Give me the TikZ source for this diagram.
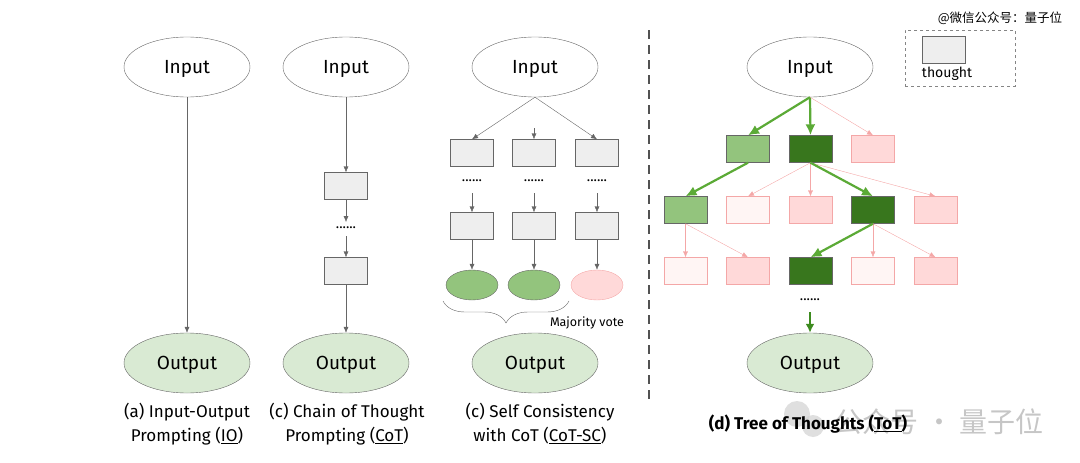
\documentclass[tikz,border=0pt]{standalone}
\usepackage{fontspec}
\setmainfont{Fira Sans}
\newfontfamily\cjk{Noto Sans CJK SC}
\usepackage{tikz}
\usetikzlibrary{arrows.meta, positioning, shapes.geometric, decorations.pathreplacing}
\definecolor{boxgray}{HTML}{EEEEEE}
\definecolor{linegray}{HTML}{666666}
\definecolor{outgreen}{HTML}{D9EAD3}
\definecolor{lightgreen}{HTML}{93C47D}
\definecolor{darkgreen}{HTML}{38761D}
\definecolor{pathgreen}{HTML}{5BAA36}
\definecolor{lastgreen}{HTML}{3D8B1F}
\definecolor{pinkfill}{HTML}{FFD9D9}
\definecolor{palepink}{HTML}{FFF5F4}
\definecolor{pinkline}{HTML}{F4A7A7}
\tikzset{
	line width = .8pt,
	>={Latex[length=6pt,width=5pt]},
	font = \fontsize{19}{22}\selectfont,
	inputnode/.style={
		draw=linegray,
		ellipse,
		fill=white,
		minimum width=126pt,
		minimum height=60pt,
		inner sep=0pt,
		text depth=0pt
	},
	outputnode/.style={
		inputnode,
		fill=outgreen
	},
	thought/.style={
		draw=linegray,
		fill=boxgray,
		minimum width=43pt,
		minimum height=27pt,
		inner sep=0pt
	},
	good/.style={thought, fill=lightgreen},
	best/.style={thought, fill=darkgreen},
	bad/.style={thought, draw=pinkline, fill=pinkfill},
	pale/.style={thought, draw=pinkline, fill=palepink},
	vote/.style={
		draw=linegray,
		ellipse,
		fill=lightgreen,
		minimum width=52pt,
		minimum height=30pt,
		inner sep=0pt
	},
	dots/.style={font=\fontsize{14}{14}\selectfont, inner sep=0pt},
	caption/.style={align=center, font=\fontsize{17}{24}\selectfont},
	edge/.style={
		->,
		draw=linegray
	},
	badedge/.style={
		->,
		draw=pinkline
	},
	goodedge/.style={
		-{Latex[length=11pt,width=10pt]},
		draw=pathgreen,
		line width=2.2pt
	}
}
\begin{document}
\begin{tikzpicture}[x=1pt, y=-1pt]
		\useasboundingbox (0,0) rectangle (1080,463);

		% (a) IO
		\node[inputnode] (io-in) at (187,67) {Input};
		\node[outputnode] (io-out) at (187,363) {Output};
		\draw[edge] (io-in) -- (io-out);
		\node[caption] (io-cap) at (187,424) {(a) Input-Output\\Prompting (\underline{IO})};

		% (c) CoT
		\node[inputnode] (cot-in) at (346,67) {Input};
		\node[thought] (cot-a) at (346,186) {};
		\node[dots] (cot-dots) at (346,228) {......};
		\coordinate (cot-d1) at (346,222);
		\coordinate (cot-d2) at (346,236);
		\node[thought] (cot-b) at (346,271) {};
		\node[outputnode] (cot-out) at (346,363) {Output};
		\draw[edge] (cot-in) -- (cot-a);
		\draw[edge] (cot-a) -- (cot-d1);
		\draw[edge] (cot-d2) -- (cot-b);
		\draw[edge] (cot-b) -- (cot-out);
		\node[caption] (cot-cap) at (347,424) {(c) Chain of Thought\\Prompting (\underline{CoT})};

		% (c) CoT-SC
		\node[inputnode] (sc-in) at (535,67) {Input};
		\foreach \i/\x in {1/472,2/534,3/597} {
			\node[thought] (sc-a\i) at (\x,153) {};
			\node[dots] (sc-dots\i) at (\x,181) {......};
			\coordinate (sc-d\i) at (\x,193);
			\node[thought] (sc-b\i) at (\x,226) {};
			\draw[edge] (sc-d\i) -- (sc-b\i);
		}
		\node[vote] (sc-v1) at (472,285) {};
		\node[vote] (sc-v2) at (534,285) {};
		\node[vote, draw=pinkline, fill=pinkfill] (sc-v3) at (597,285) {};
		\foreach \i in {1,2,3} {
			\draw[edge] (sc-b\i) -- (sc-v\i);
		}
		\coordinate (sc-mid) at (534,128);
		\draw[edge] (sc-in.south) -- (sc-a1.north);
		\draw[edge] (sc-mid) -- (sc-a2);
		\draw[edge] (sc-in.south) -- (sc-a3.north);
		\draw[linegray, decorate, decoration={brace, mirror, amplitude=22pt}] (443,301) -- (569,301);
		\node[font=\fontsize{12.5}{14}\selectfont] (sc-vote) at (587,323) {Majority vote};
		\node[outputnode] (sc-out) at (535,363) {Output};
		\node[caption] (sc-cap) at (540,424) {(c) Self Consistency\\with CoT (\underline{CoT-SC})};

		\draw[color=linegray!80!black, line width=2.4pt, dash pattern=on 9pt off 6pt] (649,30) -- (649,400);

		% (d) ToT
		\node[inputnode] (tot-in) at (810,67) {Input};
		\foreach \c/\s in {2/good,3/best,4/bad} {
			\node[\s] (r1-\c) at ({623+62.5*\c},149) {};
		}
		\foreach \c/\s in {1/good,2/pale,3/bad,4/best,5/bad} {
			\node[\s] (r2-\c) at ({623+62.5*\c},210) {};
		}
		\foreach \c/\s in {1/pale,2/bad,3/best,4/pale,5/bad} {
			\node[\s] (r3-\c) at ({623+62.5*\c},271) {};
		}
		\draw[goodedge] (tot-in.south) -- (r1-2.north);
		\draw[goodedge] (tot-in.south) -- (r1-3.north);
		\draw[badedge] (tot-in.south) -- (r1-4.north);
		\draw[goodedge] (r1-2.south) -- (r2-1.north);
		\foreach \c in {2,3,5} {
			\draw[badedge] (r1-3.south) -- (r2-\c.north);
		}
		\draw[goodedge] (r1-3.south) -- (r2-4.north);
		\foreach \c in {1,2} {
			\draw[badedge] (r2-1.south) -- (r3-\c.north);
		}
		\foreach \c in {4,5} {
			\draw[badedge] (r2-4.south) -- (r3-\c.north);
		}
		\draw[goodedge] (r2-4.south) -- (r3-3.north);
		\node[dots] (tot-dots) at (810,300) {......};
		\coordinate (tot-d) at (810,312);
		\node[outputnode] (tot-out) at (810,363) {Output};
		\draw[goodedge, draw=lastgreen, -{Latex[length=9pt,width=9pt]}, line width=1.8pt] (tot-d) -- (tot-out);

		% legend
		\node[draw=linegray!80, dashed, minimum width=110pt, minimum height=56pt, inner sep=0pt] (legend) at (960,58) {};
		\node[thought] (legend-box) at (944,50) {};
		\node[font=\fontsize{14}{16}\selectfont] (legend-text) at (947,74) {thought};

		% watermarks
		\node[font=\cjk\fontsize{12.5}{14}\selectfont, inner sep=0pt] (mark-top) at (1000,18) {@微信公众号：量子位};
		\fill[gray!35, opacity=.7] (797,414) circle (13);
		\fill[gray!35, opacity=.7] (813,426) circle (11);
		\node[font=\cjk\fontsize{28}{30}\selectfont, text=gray!45, inner sep=0pt] (mark-bottom) at (939,422) {公众号 · 量子位};

		\node[caption, font=\bfseries\fontsize{17}{24}\selectfont] (tot-cap) at (808,424) {(d) Tree of Thoughts (\underline{ToT})};
	\end{tikzpicture}
\end{document}
